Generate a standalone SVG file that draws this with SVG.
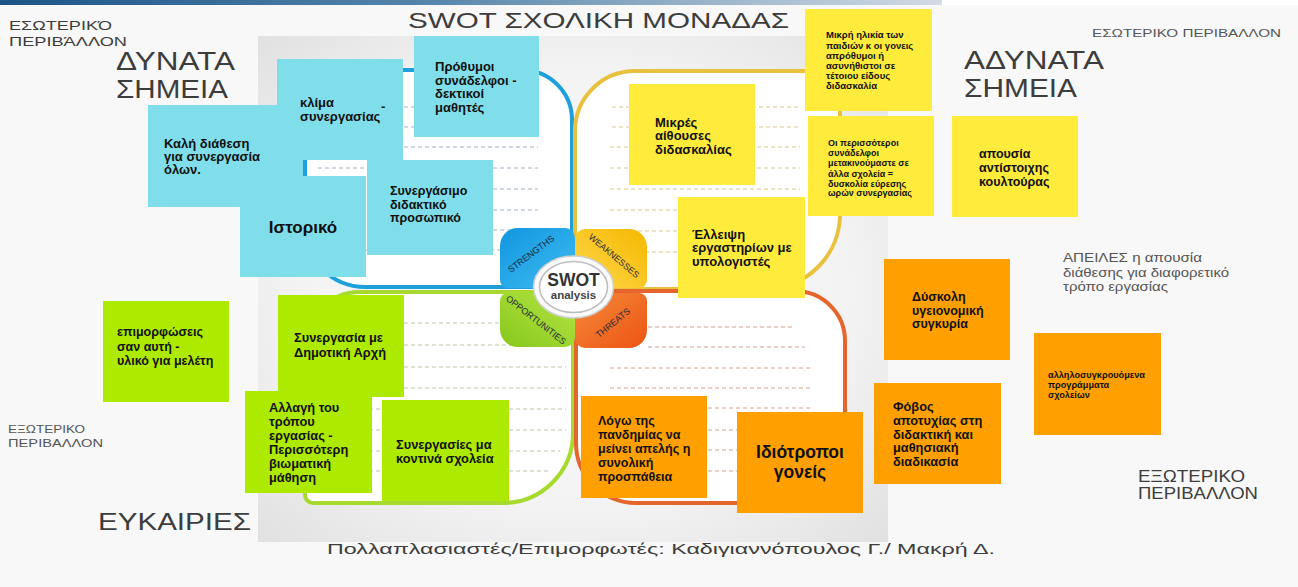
<svg xmlns="http://www.w3.org/2000/svg" width="1298" height="587" viewBox="0 0 1298 587">
<defs>
  <linearGradient id="topbar" x1="0" y1="0" x2="942" y2="0" gradientUnits="userSpaceOnUse">
    <stop offset="0" stop-color="#1b5587"/>
    <stop offset="0.45" stop-color="#5585ab"/>
    <stop offset="1" stop-color="#d3dbe3"/>
  </linearGradient>
  <radialGradient id="imgbg" cx="0.5" cy="0.5" r="0.72">
    <stop offset="0" stop-color="#fcfcfc"/>
    <stop offset="0.6" stop-color="#f3f3f3"/>
    <stop offset="1" stop-color="#e0e0e0"/>
  </radialGradient>
  <linearGradient id="pBlue" x1="0" y1="0" x2="1" y2="1">
    <stop offset="0" stop-color="#1196e0"/><stop offset="1" stop-color="#3fbcf0"/>
  </linearGradient>
  <linearGradient id="pYellow" x1="1" y1="0" x2="0" y2="1">
    <stop offset="0" stop-color="#f5b800"/><stop offset="1" stop-color="#ffd84e"/>
  </linearGradient>
  <linearGradient id="pGreen" x1="0" y1="1" x2="1" y2="0">
    <stop offset="0" stop-color="#86c81c"/><stop offset="1" stop-color="#b6e444"/>
  </linearGradient>
  <linearGradient id="pOrange" x1="1" y1="1" x2="0" y2="0">
    <stop offset="0" stop-color="#ec5412"/><stop offset="1" stop-color="#f68a3c"/>
  </linearGradient>
</defs>
<style>
  .hd { font-family: "Liberation Sans", Arial, sans-serif; fill: #3d3d3d; }
  .lt { fill: #555555; }
  .nt { font-family: "Liberation Sans", Arial, sans-serif; font-weight: bold; fill: #111111; }
  .blue { fill: #80deea; }
  .yellow { fill: #ffeb3b; }
  .orange { fill: #ffa000; }
  .green { fill: #aeea00; }
  .quad { fill: #ffffff; stroke-width: 4; }
  .dash { stroke-width: 1; stroke-dasharray: 4 3; fill: none; }
  .db { stroke: #a2b4c4; } .dy { stroke: #d9c98f; } .dg { stroke: #bcc8a8; } .do { stroke: #d2a592; }
  .pl { font-family: "Liberation Sans", Arial, sans-serif; fill: #1d2b3a; font-size: 9px; text-anchor: middle; }
</style>

<rect width="1298" height="587" fill="#f8f8f8"/>
<rect x="0" y="0" width="942" height="5" fill="url(#topbar)"/>
<rect x="942" y="0" width="356" height="5" fill="#ffffff"/>

<g id="swot-image">
  <rect x="258" y="36" width="630" height="506" fill="url(#imgbg)"/>
  <path class="quad" stroke="#1ea0dc" d="M313,70 H522 A50,50 0 0 1 572,120 V279 A8,8 0 0 1 564,287 H365 A60,60 0 0 1 305,227 V78 A8,8 0 0 1 313,70 Z"/>
  <path class="quad" stroke="#e9c13c" stroke-width="3.5" d="M635,71 H832 A8,8 0 0 1 840,79 V214 A75,75 0 0 1 765,289 H583 A8,8 0 0 1 575,281 V131 A60,60 0 0 1 635,71 Z"/>
  <path class="quad" stroke="#a6da2e" d="M360,292 H565 A8,8 0 0 1 573,300 V433 A70,70 0 0 1 503,503 H313 A8,8 0 0 1 305,495 V347 A55,55 0 0 1 360,292 Z"/>
  <path class="quad" stroke="#e4662c" d="M584,291 H795 A50,50 0 0 1 845,341 V495 A8,8 0 0 1 837,503 H636 A60,60 0 0 1 576,443 V299 A8,8 0 0 1 584,291 Z"/>

  <g class="dash db">
    <path d="M320,107 H538 M320,127 H538 M320,147 H538 M318,168 H538 M318,189 H538 M318,210 H538 M318,230 H538 M322,250 H538"/>
  </g>
  <g class="dash dy">
    <path d="M612,107 H800 M612,127 H800 M610,147 H800 M610,168 H800 M610,189 H800 M610,210 H800 M610,231 H800 M610,252 H790"/>
  </g>
  <g class="dash dg">
    <path d="M320,323 H566 M320,345 H566 M320,367 H566 M320,388 H566 M320,409 H566 M320,430 H566 M320,451 H560 M320,471 H548"/>
  </g>
  <g class="dash do">
    <path d="M648,327 H793 M648,347 H805 M610,368 H812 M610,388 H812 M610,408 H812 M610,430 H812 M610,450 H812 M610,471 H812"/>
  </g>

  <g id="flower">
    <path fill="url(#pBlue)" d="M518,228 H565 A10,10 0 0 1 575,238 V288 H508 A8,8 0 0 1 500,280 V246 A18,18 0 0 1 518,228 Z"/>
    <path fill="url(#pYellow)" d="M585,229 H629 A18,18 0 0 1 647,247 V280 A8,8 0 0 1 639,288 H575 V239 A10,10 0 0 1 585,229 Z"/>
    <path fill="url(#pGreen)" d="M508,293 H575 V337 A10,10 0 0 1 565,347 H518 A18,18 0 0 1 500,329 V301 A8,8 0 0 1 508,293 Z"/>
    <path fill="url(#pOrange)" d="M575,293 H639 A8,8 0 0 1 647,301 V330 A18,18 0 0 1 629,348 H585 A10,10 0 0 1 575,338 Z"/>
    <text class="pl" x="531" y="257" transform="rotate(-37 531 254)">STRENGTHS</text>
    <text class="pl" x="614" y="259" transform="rotate(40 614 256)">WEAKNESSES</text>
    <text class="pl" x="536" y="323" transform="rotate(38 536 320)">OPPORTUNITIES</text>
    <text class="pl" x="613" y="326" transform="rotate(-39 613 323)">THREATS</text>
    <ellipse cx="573.5" cy="287" rx="40" ry="31" fill="#fafafa" stroke="#cfcfcf" stroke-width="1.5"/>
    <ellipse cx="573.5" cy="287" rx="34" ry="25.5" fill="#ffffff" stroke="#bdbdbd" stroke-width="1.5"/>
    <text x="573.5" y="285.5" text-anchor="middle" font-family="Liberation Sans, Arial, sans-serif" font-weight="bold" font-size="17.5" fill="#333333">SWOT</text>
    <text x="573.5" y="299" text-anchor="middle" font-family="Liberation Sans, Arial, sans-serif" font-weight="bold" font-size="11.5" fill="#444444">analysis</text>
  </g>
</g>

<g id="headings" class="hd">
  <text x="9" y="29.5" font-size="12.5" textLength="103" lengthAdjust="spacingAndGlyphs">ΕΣΩΤΕΡΙΚΌ</text>
  <text x="9" y="46" font-size="12.5" textLength="118" lengthAdjust="spacingAndGlyphs">ΠΕΡΙΒΆΛΛΟΝ</text>
  <text x="116" y="70" font-size="25.5" textLength="119" lengthAdjust="spacingAndGlyphs">ΔΥΝΑΤΑ</text>
  <text x="116" y="97.5" font-size="25.5" textLength="112" lengthAdjust="spacingAndGlyphs">ΣΗΜΕΙΑ</text>
  <text x="408" y="28.3" font-size="22" textLength="381" lengthAdjust="spacingAndGlyphs">SWOT ΣΧΟΛΙΚΗ ΜΟΝΑΔΑΣ</text>
  <text class="lt" x="1092" y="37.3" font-size="10.5" textLength="189" lengthAdjust="spacingAndGlyphs">ΕΣΩΤΕΡΙΚΟ ΠΕΡΙΒΑΛΛΟΝ</text>
  <text x="964" y="68.5" font-size="25.5" textLength="140" lengthAdjust="spacingAndGlyphs">ΑΔΥΝΑΤΑ</text>
  <text x="964" y="97.3" font-size="25.5" textLength="113" lengthAdjust="spacingAndGlyphs">ΣΗΜΕΙΑ</text>
  <text class="lt" x="1063" y="262.3" font-size="12" textLength="139" lengthAdjust="spacingAndGlyphs">ΑΠΕΙΛΕΣ η απουσία</text>
  <text class="lt" x="1063" y="276.7" font-size="12" textLength="166" lengthAdjust="spacingAndGlyphs">διάθεσης για διαφορετικό</text>
  <text class="lt" x="1063" y="290.7" font-size="12" textLength="105" lengthAdjust="spacingAndGlyphs">τρόπο εργασίας</text>
  <text x="1138" y="482.3" font-size="16" textLength="107" lengthAdjust="spacingAndGlyphs">ΕΞΩΤΕΡΙΚΟ</text>
  <text x="1138" y="499.3" font-size="16" textLength="120" lengthAdjust="spacingAndGlyphs">ΠΕΡΙΒΑΛΛΟΝ</text>
  <text class="lt" x="8" y="432.7" font-size="10.7" textLength="77" lengthAdjust="spacingAndGlyphs">ΕΞΩΤΕΡΙΚΟ</text>
  <text class="lt" x="8" y="447.3" font-size="10.7" textLength="95" lengthAdjust="spacingAndGlyphs">ΠΕΡΙΒΑΛΛΟΝ</text>
  <text x="98" y="530" font-size="23" textLength="153" lengthAdjust="spacingAndGlyphs">ΕΥΚΑΙΡΙΕΣ</text>
  <text x="327" y="554" font-size="15" textLength="668" lengthAdjust="spacingAndGlyphs">Πολλαπλασιαστές/Επιμορφωτές: Καδιγιαννόπουλος Γ./ Μακρή Δ.</text>
</g>

<!-- Strengths notes -->
<g id="s-kali-diathesi">
  <rect class="blue" x="148" y="105" width="155" height="102"/>
  <text class="nt" font-size="13"><tspan x="164" y="148">Καλή διάθεση</tspan><tspan x="164" y="161">για συνεργασία</tspan><tspan x="164" y="174">όλων.</tspan></text>
</g>
<g id="s-klima">
  <rect class="blue" x="277" y="59" width="126" height="101"/>
  <text class="nt" font-size="13"><tspan x="300" y="106.5">κλίμα</tspan><tspan x="381" y="111">-</tspan><tspan x="300" y="120.5">συνεργασίας</tspan></text>
</g>
<g id="s-prothymoi">
  <rect class="blue" x="414" y="36" width="125" height="101"/>
  <text class="nt" font-size="13"><tspan x="435" y="71">Πρόθυμοι</tspan><tspan x="435" y="84.5">συνάδελφοι -</tspan><tspan x="435" y="98">δεκτικοί</tspan><tspan x="435" y="111.5">μαθητές</tspan></text>
</g>
<g id="s-istoriko">
  <rect class="blue" x="240" y="176" width="126" height="101"/>
  <text class="nt" font-size="17" x="303" y="233" text-anchor="middle">Ιστορικό</text>
</g>
<g id="s-synergasimo">
  <rect class="blue" x="367" y="160" width="126" height="95"/>
  <text class="nt" font-size="12.5"><tspan x="390" y="195">Συνεργάσιμο</tspan><tspan x="390" y="208.5">διδακτικό</tspan><tspan x="390" y="222">προσωπικό</tspan></text>
</g>

<!-- Weaknesses notes -->
<g id="w-mikres-aithouses">
  <rect class="yellow" x="629" y="84" width="126" height="101"/>
  <text class="nt" font-size="13"><tspan x="655" y="126.5">Μικρές</tspan><tspan x="655" y="140">αίθουσες</tspan><tspan x="655" y="153.5">διδασκαλίας</tspan></text>
</g>
<g id="w-elleipsi">
  <rect class="yellow" x="678" y="197" width="127" height="101"/>
  <text class="nt" font-size="13"><tspan x="692" y="238.5">Έλλειψη</tspan><tspan x="692" y="252.3">εργαστηρίων με</tspan><tspan x="692" y="266">υπολογιστές</tspan></text>
</g>
<g id="w-mikri-ilikia">
  <rect class="yellow" x="805" y="9" width="127" height="102"/>
  <text class="nt" font-size="9.5"><tspan x="826" y="38">Μικρή ηλικία των</tspan><tspan x="826" y="48.5">παιδιών κ οι γονεις</tspan><tspan x="826" y="59">απρόθυμοι ή</tspan><tspan x="826" y="69">ασυνήθιστοι σε</tspan><tspan x="826" y="79">τέτοιου είδους</tspan><tspan x="826" y="88.5">διδασκαλία</tspan></text>
</g>
<g id="w-perissoteroi">
  <rect class="yellow" x="808" y="116" width="126" height="100"/>
  <text class="nt" font-size="9"><tspan x="828" y="146">Οι περισσότεροι</tspan><tspan x="828" y="156.3">συνάδελφοι</tspan><tspan x="828" y="166.3">μετακινούμαστε σε</tspan><tspan x="828" y="176.8">άλλα σχολεία =</tspan><tspan x="828" y="186.8">δυσκολία εύρεσης</tspan><tspan x="828" y="196">ωρών συνεργασίας</tspan></text>
</g>
<g id="w-koultoura">
  <rect class="yellow" x="952" y="116" width="126" height="101"/>
  <text class="nt" font-size="12.5"><tspan x="979" y="158">απουσία</tspan><tspan x="979" y="172">αντίστοιχης</tspan><tspan x="979" y="186">κουλτούρας</tspan></text>
</g>

<!-- Threats notes -->
<g id="t-dyskoli">
  <rect class="orange" x="884" y="259" width="126" height="101"/>
  <text class="nt" font-size="12.5"><tspan x="912" y="301">Δύσκολη</tspan><tspan x="912" y="314.5">υγειονομική</tspan><tspan x="912" y="328">συγκυρία</tspan></text>
</g>
<g id="t-fovos">
  <rect class="orange" x="874" y="383" width="127" height="101"/>
  <text class="nt" font-size="12.8"><tspan x="893" y="411">Φόβος</tspan><tspan x="893" y="425">αποτυχίας στη</tspan><tspan x="893" y="438.5">διδακτική και</tspan><tspan x="893" y="452">μαθησιακή</tspan><tspan x="893" y="465.5">διαδικασία</tspan></text>
</g>
<g id="t-pandimia">
  <rect class="orange" x="581" y="396" width="126" height="102"/>
  <text class="nt" font-size="12.5"><tspan x="598" y="425">Λόγω της</tspan><tspan x="598" y="439">πανδημίας να</tspan><tspan x="598" y="453">μείνει απελής η</tspan><tspan x="598" y="467">συνολική</tspan><tspan x="598" y="480.5">προσπάθεια</tspan></text>
</g>
<g id="t-idiotropoi">
  <rect class="orange" x="737" y="412" width="126" height="101"/>
  <text class="nt" font-size="17.5" text-anchor="middle"><tspan x="800" y="458.3">Ιδιότροποι</tspan><tspan x="800" y="477.5">γονείς</tspan></text>
</g>
<g id="t-programmata">
  <rect class="orange" x="1034" y="333" width="127" height="102"/>
  <text class="nt" font-size="9.2"><tspan x="1048" y="378">αλληλοσυγκρουόμενα</tspan><tspan x="1048" y="388">προγράμματα</tspan><tspan x="1048" y="398">σχολείων</tspan></text>
</g>

<!-- Opportunities notes -->
<g id="o-epimorfoseis">
  <rect class="green" x="103" y="301" width="126" height="101"/>
  <text class="nt" font-size="12.5"><tspan x="117" y="336">επιμορφώσεις</tspan><tspan x="117" y="350.5">σαν αυτή -</tspan><tspan x="117" y="365">υλικό για μελέτη</tspan></text>
</g>
<g id="o-dimotiki-arxi">
  <rect class="green" x="278" y="295" width="126" height="102"/>
  <text class="nt" font-size="12.8"><tspan x="294" y="342">Συνεργασία με</tspan><tspan x="294" y="357">Δημοτική Αρχή</tspan></text>
</g>
<g id="o-allagi">
  <rect class="green" x="245" y="391" width="127" height="102"/>
  <text class="nt" font-size="12.8"><tspan x="269" y="412">Αλλαγή του</tspan><tspan x="269" y="426">τρόπου</tspan><tspan x="269" y="440">εργασίας -</tspan><tspan x="269" y="454">Περισσότερη</tspan><tspan x="269" y="468">βιωματική</tspan><tspan x="269" y="482">μάθηση</tspan></text>
</g>
<g id="o-kontina-sxoleia">
  <rect class="green" x="382" y="400" width="127" height="101"/>
  <text class="nt" font-size="12.8"><tspan x="396" y="449">Συνεργασίες μα</tspan><tspan x="396" y="463">κοντινά σχολεία</tspan></text>
</g>

<g id="connectors"></g>
</svg>
